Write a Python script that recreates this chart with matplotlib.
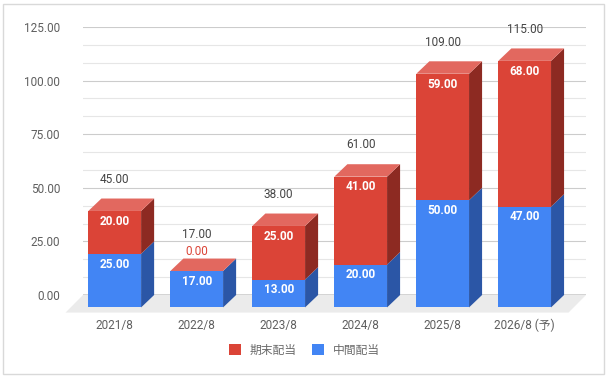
import numpy as np
import matplotlib.pyplot as plt
from matplotlib.patches import Polygon, Rectangle, Patch

# data
categories = ['2021/8', '2022/8', '2023/8', '2024/8', '2025/8', '2026/8 (予)']
interim = [25, 17, 13, 20, 50, 47]     # 中間配当
year_end = [20, 0, 25, 41, 59, 68]     # 期末配当
series_names = ['中間配当', '期末配当']
yticks = [0, 25, 50, 75, 100, 125]

# front / top / side shades for the fake 3d look
blue = ('#4285f4', '#6b9ef6', '#2b56a6')
red = ('#db4437', '#e2685f', '#8d2a22')

plt.rcParams['font.family'] = ['Roboto', 'Noto Sans CJK JP', 'DejaVu Sans']
grey = '#5f5f5f'

fig = plt.figure(figsize=(6.08, 3.78), dpi=100)
ax = fig.add_axes([83 / 608, 83 / 378, 503 / 608, 268 / 378])
ax.set_xlim(-0.387, 5.748)
ax.set_ylim(0, 125)
for s in ax.spines.values():
    s.set_visible(False)
ax.set_xticks([])
ax.set_yticks(yticks)
ax.set_yticklabels(['%.2f' % v for v in yticks], fontsize=8.5, color=grey)
ax.tick_params(axis='y', length=0, pad=16.5)

w = 0.643    # bar width (category units)
dx = 0.159   # depth of the bars
dy = 5.8
fdx = 0.213  # depth of the floor
fdy = 8.2

# grid lines, every third one darker
for v in np.arange(0, 126, 25 / 3):
    major = abs(v / 25 - round(v / 25)) < 1e-6
    ax.axhline(v, color='#cccccc' if major else '#e6e6e6', lw=0.8, zorder=1)
ax.axhline(0, color='#333333', lw=1, zorder=2)

# floor
x0, x1 = ax.get_xlim()
ax.add_patch(Polygon([(x0, 0), (x1, 0), (x1 - fdx, -fdy), (x0 - fdx, -fdy)],
                     closed=True, fc='#ebebeb', ec='none', clip_on=False, zorder=0.5))


def box(x, base, v, shades, top):
    left, right = x - w / 2, x + w / 2
    ax.add_patch(Rectangle((left, base - dy), w, v, fc=shades[0], ec='none',
                           clip_on=False, zorder=3))
    ax.add_patch(Polygon([(right, base - dy), (right + dx, base),
                          (right + dx, base + v), (right, base + v - dy)],
                         closed=True, fc=shades[2], ec='none', clip_on=False, zorder=3))
    if top:
        t = base + v
        ax.add_patch(Polygon([(left, t - dy), (right, t - dy),
                              (right + dx, t), (left + dx, t)],
                             closed=True, fc=shades[1], ec='none', clip_on=False, zorder=3))


for i in range(len(categories)):
    a, b = interim[i], year_end[i]
    box(i, 0, a, blue, False)
    box(i, a, b, red, True)
    total = a + b
    for base, v in [(0, a), (a, b)]:
        if v > 0:
            ax.text(i, base + v - dy - 4.8, '%.2f' % v, ha='center', va='center',
                    color='white', fontsize=8.5, fontweight='bold', zorder=4)
    extra = 0
    if b == 0:
        ax.text(i, total - dy + 9.2, '%.2f' % b, ha='center', va='center',
                color=red[0], fontsize=8.5, zorder=4)
        extra = 2.0
    ax.text(i, total - dy + 14.8 + extra, '%.2f' % total, ha='center', va='center',
            color='#444444', fontsize=8.5, zorder=4)
    ax.text(i, -14, categories[i], ha='center', va='center', color=grey, fontsize=8.5)

handles = [Patch(fc=red[0]), Patch(fc=blue[0])]
fig.legend(handles, [series_names[1], series_names[0]], loc='center',
           bbox_to_anchor=(304.5 / 608, 1 - 350 / 378), ncol=2, frameon=False,
           fontsize=8.5, handlelength=1.0, handleheight=1.0, handletextpad=0.7,
           columnspacing=1.35, labelcolor='#6a6a6a', borderpad=0)

fig.patches.append(Rectangle((3 / 608, 4 / 378), 601 / 608, 370 / 378,
                             transform=fig.transFigure, fill=False,
                             ec='#d9d9d9', lw=1))

fig.savefig('out.png', dpi=100)
